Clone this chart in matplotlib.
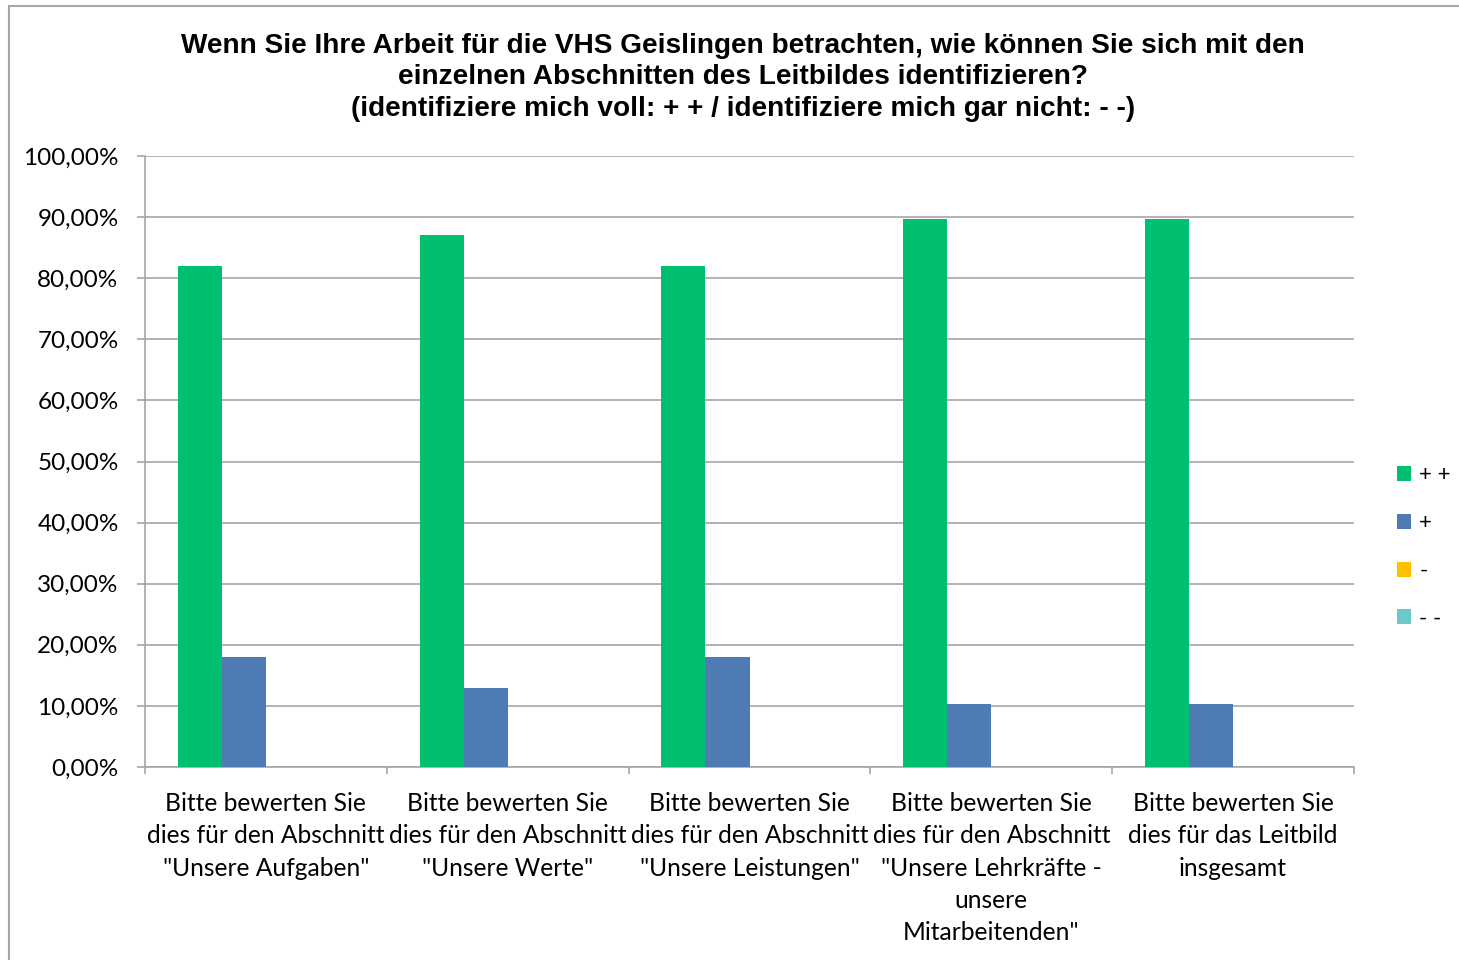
import numpy as np
import matplotlib.pyplot as plt
from matplotlib.patches import Rectangle

# Data
categories = [
    'Bitte bewerten Sie\ndies für den Abschnitt\n"Unsere Aufgaben"',
    'Bitte bewerten Sie\ndies für den Abschnitt\n"Unsere Werte"',
    'Bitte bewerten Sie\ndies für den Abschnitt\n"Unsere Leistungen"',
    'Bitte bewerten Sie\ndies für den Abschnitt\n"Unsere Lehrkräfte -\nunsere\nMitarbeitenden"',
    'Bitte bewerten Sie\ndies für das Leitbild\ninsgesamt',
]
series_names = ["+ +", "+", "-", "- -"]
pp = [82.0, 87.1, 82.0, 89.7, 89.7]
p = [18.0, 12.9, 18.0, 10.3, 10.3]
m = [0, 0, 0, 0, 0]
mm = [0, 0, 0, 0, 0]
colors = ["#00BF6F", "#4F7BB5", "#FFC000", "#6DCACC"]

fig = plt.figure(figsize=(14.59, 9.6), dpi=100)
ax = fig.add_axes([145/1459, 193/960, 1209/1459, 611/960])

x = np.arange(len(categories))
w = 0.182
for i, (vals, name) in enumerate(zip([pp, p, m, mm], series_names)):
    ax.bar(x + (i - 1.5) * w, vals, width=w, color=colors[i], label=name, zorder=3)

ax.set_xlim(-0.5, len(categories) - 0.5)
ax.set_ylim(0, 100)
ax.set_yticks(np.arange(0, 101, 10))
ax.set_yticklabels([f"{v},00%" for v in range(0, 101, 10)])
ax.yaxis.grid(True, color="#A6A6A6", linewidth=1.2, zorder=0)

ax.set_xticks(x)
ax.set_xticklabels(categories)
ax.set_xticks(np.arange(-0.5, len(categories)), minor=True)
ax.tick_params(axis="x", which="major", length=0, pad=18)
ax.tick_params(axis="x", which="minor", length=5, color="#A6A6A6", width=1.2)
ax.tick_params(axis="y", length=6, color="#A6A6A6", width=1.2, pad=13)
for lab in ax.get_yticklabels():
    lab.set_fontfamily("Lato")
    lab.set_fontsize(17.5)
for lab in ax.get_xticklabels():
    lab.set_fontfamily("Lato")
    lab.set_fontsize(17.7)
    lab.set_linespacing(1.49)

for s in ["top", "right"]:
    ax.spines[s].set_visible(False)
for s in ["left", "bottom"]:
    ax.spines[s].set_color("#A6A6A6")
    ax.spines[s].set_linewidth(1.2)

fig.text(0.509, 0.966,
         "Wenn Sie Ihre Arbeit für die VHS Geislingen betrachten, wie können Sie sich mit den\n"
         "einzelnen Abschnitten des Leitbildes identifizieren?\n"
         "(identifiziere mich voll: + + / identifiziere mich gar nicht: - -)",
         ha="center", va="top", fontsize=20.2, fontweight="bold",
         fontfamily="Liberation Sans", linespacing=1.29)

leg = ax.legend(loc="center left", bbox_to_anchor=(1.019, 0.36), frameon=False,
                prop={"family": "Lato", "size": 16}, handlelength=0.65, handleheight=0.65,
                handletextpad=0.35, labelspacing=1.25)

# chart border
fig.patches.append(Rectangle((9/1459, -0.05), 1.1, (960-6)/960 + 0.05,
                             transform=fig.transFigure, fill=False,
                             edgecolor="#A6A6A6", linewidth=1.5))

plt.savefig("out.png", dpi=100)
